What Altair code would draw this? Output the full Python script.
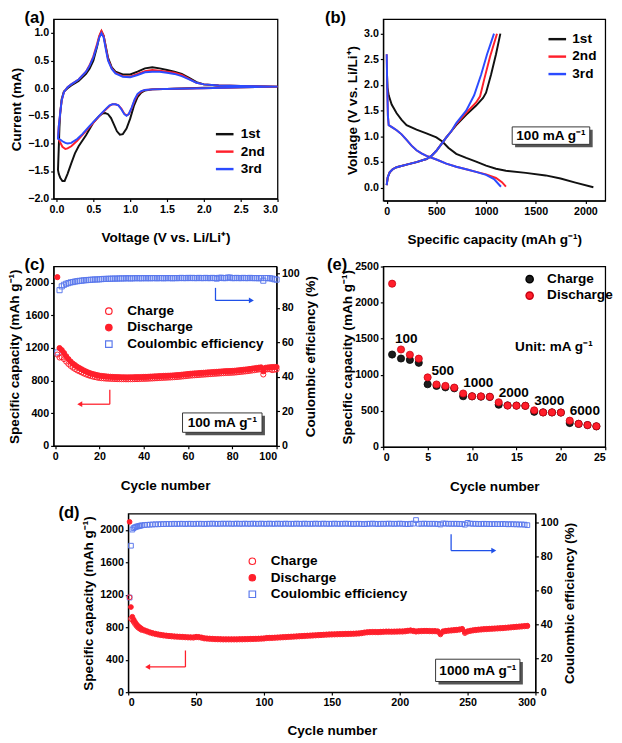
import altair as alt
import pandas as pd

FONT = "Liberation Sans"
RED = "#ff1f2b"
BLUE = "#2b4bff"
CE_BLUE = "#5a78ec"
ARROW_BLUE = "#1f50e8"
BLACK = "#111111"

# ---------------- (a) cyclic voltammetry ----------------
cv_names = ["1st", "2nd", "3rd"]
cv1_v = [3.0, 2.5, 2.0, 1.6, 1.3, 1.2, 1.15, 1.1, 1.05, 1.0, 0.95, 0.9, 0.86, 0.82, 0.78, 0.74, 0.7, 0.66, 0.62, 0.58,
         0.5, 0.4, 0.3, 0.25, 0.2, 0.15, 0.11, 0.08, 0.05, 0.03, 0.02,
         0.03, 0.04, 0.05, 0.07, 0.1, 0.15, 0.2, 0.3, 0.4, 0.45, 0.5, 0.55, 0.58, 0.61, 0.64, 0.67, 0.7, 0.75, 0.8,
         0.9, 1.0, 1.1, 1.2, 1.3, 1.4, 1.5, 1.6, 1.7, 1.8, 1.9, 2.0, 2.2, 2.5, 3.0]
cv1_i = [0.03, 0.02, 0.01, -0.01, -0.02, -0.04, -0.08, -0.16, -0.32, -0.55, -0.73, -0.83, -0.84, -0.78, -0.66, -0.54, -0.47, -0.45, -0.46, -0.5,
         -0.62, -0.85, -1.05, -1.18, -1.36, -1.55, -1.68, -1.68, -1.62, -1.55, -1.48,
         -1.1, -0.7, -0.45, -0.2, -0.06, 0.0, 0.05, 0.13, 0.26, 0.36, 0.5, 0.75, 0.93, 1.03, 0.95, 0.75, 0.55, 0.38, 0.3,
         0.25, 0.25, 0.3, 0.36, 0.38, 0.36, 0.33, 0.3, 0.26, 0.19, 0.11, 0.07, 0.05, 0.04, 0.03]
cv2_v = [3.0, 2.5, 2.0, 1.6, 1.3, 1.2, 1.15, 1.1, 1.06, 1.02, 0.98, 0.95, 0.92, 0.88, 0.84, 0.8, 0.76, 0.72, 0.68, 0.62,
         0.55, 0.45, 0.35, 0.28, 0.2, 0.15, 0.12, 0.08, 0.05, 0.03, 0.02,
         0.03, 0.05, 0.07, 0.1, 0.15, 0.2, 0.3, 0.4, 0.45, 0.5, 0.55, 0.58, 0.61, 0.64, 0.67, 0.7, 0.75, 0.8,
         0.9, 1.0, 1.1, 1.2, 1.3, 1.4, 1.5, 1.6, 1.7, 1.8, 1.9, 2.0, 2.2, 2.5, 3.0]
cv2_i = [0.03, 0.02, 0.0, -0.01, -0.02, -0.03, -0.06, -0.12, -0.22, -0.36, -0.47, -0.49, -0.46, -0.37, -0.31, -0.29, -0.29, -0.32, -0.37, -0.45,
         -0.55, -0.7, -0.85, -0.95, -1.05, -1.09, -1.1, -1.06, -0.98, -0.93, -0.9,
         -0.7, -0.45, -0.22, -0.07, 0.02, 0.07, 0.16, 0.3, 0.42, 0.58, 0.8, 0.95, 1.04, 0.95, 0.73, 0.52, 0.36, 0.28,
         0.22, 0.21, 0.26, 0.31, 0.33, 0.32, 0.3, 0.28, 0.24, 0.17, 0.1, 0.07, 0.05, 0.04, 0.03]
cv3_v = cv2_v
cv3_i = [0.03, 0.02, 0.0, -0.01, -0.02, -0.03, -0.05, -0.1, -0.2, -0.35, -0.47, -0.5, -0.47, -0.38, -0.31, -0.29, -0.29, -0.31, -0.36, -0.44,
         -0.54, -0.68, -0.83, -0.92, -0.99, -1.0, -0.99, -0.96, -0.93, -0.92, -0.91,
         -0.7, -0.45, -0.22, -0.07, 0.02, 0.07, 0.16, 0.3, 0.41, 0.56, 0.77, 0.92, 1.0, 0.92, 0.7, 0.5, 0.35, 0.27,
         0.21, 0.2, 0.24, 0.29, 0.3, 0.3, 0.28, 0.26, 0.22, 0.16, 0.1, 0.07, 0.05, 0.04, 0.03]

# ---------------- (b) charge/discharge profiles ----------------
dis1_c = [3, 8, 20, 50, 100, 150, 200, 300, 400, 500, 560, 620, 700, 800, 900, 1000, 1100, 1200, 1400, 1600, 1750, 1900, 2080]
dis1_v = [2.2, 1.95, 1.8, 1.62, 1.45, 1.32, 1.22, 1.13, 1.06, 0.98, 0.9, 0.78, 0.66, 0.58, 0.51, 0.43, 0.37, 0.33, 0.29, 0.24, 0.18, 0.1, 0.01]
dis2_c = [0, 5, 12, 20, 60, 100, 150, 200, 250, 300, 350, 400, 500, 600, 700, 800, 900, 1000, 1100, 1160, 1200]
dis2_v = [2.6, 2.0, 1.4, 1.22, 1.17, 1.12, 1.04, 0.93, 0.82, 0.73, 0.67, 0.62, 0.55, 0.47, 0.41, 0.36, 0.31, 0.26, 0.19, 0.11, 0.02]
dis3_c = [0, 5, 12, 20, 60, 100, 150, 200, 250, 300, 350, 400, 500, 600, 700, 800, 900, 1000, 1080, 1150]
dis3_v = [2.6, 2.0, 1.4, 1.22, 1.17, 1.12, 1.04, 0.93, 0.82, 0.73, 0.67, 0.62, 0.55, 0.47, 0.41, 0.36, 0.31, 0.25, 0.17, 0.02]
chg1_c = [0, 10, 30, 60, 100, 200, 300, 400, 450, 500, 550, 600, 650, 700, 800, 900, 970, 1000, 1050, 1100, 1144]
chg1_v = [0.05, 0.2, 0.3, 0.36, 0.4, 0.45, 0.5, 0.56, 0.62, 0.72, 0.85, 0.98, 1.1, 1.22, 1.42, 1.6, 1.75, 1.85, 2.2, 2.6, 3.0]
chg2_c = [0, 10, 30, 60, 100, 200, 300, 400, 450, 500, 550, 600, 650, 700, 800, 900, 940, 980, 1040, 1110]
chg2_v = [0.05, 0.2, 0.3, 0.36, 0.4, 0.45, 0.5, 0.56, 0.62, 0.72, 0.85, 0.98, 1.1, 1.24, 1.46, 1.66, 1.78, 2.1, 2.55, 3.0]
chg3_c = [0, 10, 30, 60, 100, 200, 300, 400, 450, 500, 550, 600, 650, 700, 800, 880, 950, 1010, 1080]
chg3_v = [0.05, 0.2, 0.3, 0.36, 0.4, 0.45, 0.5, 0.56, 0.62, 0.72, 0.85, 0.98, 1.1, 1.26, 1.5, 1.8, 2.2, 2.6, 3.0]

# ---------------- (c) cycling at 100 mA/g ----------------
cyc_c = list(range(1, 101))
dis_c = [2070, 1200, 1175, 1140, 1100, 1065, 1035, 1010, 990, 970,
         955, 940, 925, 912, 900, 890, 882, 875, 868, 862,
         858, 855, 852, 850, 848, 846, 845, 844, 843, 842,
         842, 841, 841, 842, 842, 843, 843, 844, 845, 846,
         847, 848, 850, 851, 853, 854, 856, 857, 859, 860,
         861, 862, 864, 866, 868, 870, 873, 876, 879, 882,
         885, 887, 889, 891, 893, 895, 897, 899, 901, 903,
         905, 907, 909, 911, 913, 915, 917, 918, 919, 920,
         922, 925, 928, 931, 934, 937, 940, 944, 948, 952,
         956, 960, 963, 915, 958, 962, 965, 967, 968, 968]
chg_c = [1120, 1084, 1087, 1065, 1034, 1005, 981, 960, 943, 926,
         914, 901, 888, 876, 866, 857, 850, 844, 838, 833,
         830, 828, 825, 824, 822, 821, 820, 819, 819, 818,
         818, 817, 817, 818, 818, 819, 819, 820, 821, 822,
         823, 824, 826, 827, 829, 830, 832, 833, 835, 836,
         838, 839, 841, 843, 845, 847, 850, 853, 856, 859,
         862, 864, 866, 868, 870, 872, 874, 876, 878, 880,
         882, 884, 886, 888, 890, 892, 894, 895, 896, 897,
         899, 902, 905, 908, 911, 914, 917, 921, 925, 929,
         933, 937, 940, 876, 935, 939, 940, 930, 934, 938]
ce_c = [54.2, 90.3, 92.5, 93.4, 94.0, 94.4, 94.8, 95.0, 95.3, 95.5,
        95.7, 95.8, 96.0, 96.1, 96.2, 96.3, 96.4, 96.5, 96.5, 96.6,
        96.7, 96.8, 96.8, 96.9, 96.9, 97.0, 97.0, 97.0, 97.1, 97.1,
        97.1, 97.2, 97.2, 97.1, 97.2, 97.2, 97.3, 97.2, 97.2, 97.3,
        97.2, 97.3, 97.2, 97.3, 97.3, 97.2, 97.3, 97.3, 97.2, 97.3,
        97.3, 97.3, 97.2, 97.3, 97.3, 97.3, 97.4, 97.3, 97.3, 97.4,
        97.3, 97.4, 97.3, 97.3, 97.4, 97.3, 97.3, 97.4, 97.3, 97.3,
        97.4, 97.3, 97.0, 97.4, 97.5, 97.3, 97.3, 97.6, 97.6, 97.3,
        97.3, 97.4, 97.3, 97.3, 97.4, 97.3, 97.3, 97.4, 97.3, 97.3,
        97.3, 97.2, 97.3, 95.8, 97.3, 97.3, 97.2, 97.0, 96.6, 96.4]

# ---------------- (e) rate capability ----------------
cyc_e = list(range(1, 25))
chg_e = [1280, 1225, 1205, 1165, 868, 845, 825, 812, 702, 700, 696, 692, 584, 575, 572, 569, 486, 478, 477, 476, 330, 318, 302, 284]
dis_e = [2262, 1350, 1277, 1223, 963, 865, 845, 822, 740, 702, 700, 695, 618, 573, 571, 569, 506, 477, 478, 476, 363, 320, 302, 286]
rate_labels = ["100", "500", "1000", "2000", "3000", "6000"]
rate_label_cycle = [2.6, 6.7, 10.7, 14.7, 18.7, 22.7]
rate_label_cap = [1500, 1055, 880, 750, 640, 490]

# ---------------- (d) long cycling at 1000 mA/g ----------------
cyc_d = list(range(1, 11)) + list(range(12, 295, 2))
dis_d = [2100, 1050, 930, 895, 865, 840, 820, 805, 792, 780,
         765, 752, 740, 730, 722, 715, 709, 704, 700, 696,
         693, 690, 688, 686, 684, 682, 680, 679, 678, 684,
         682, 676, 668, 665, 662, 660, 658, 657, 656, 655,
         655, 655, 655, 655, 655, 656, 656, 657, 658, 659,
         660, 661, 662, 664, 666, 671, 672, 673, 675, 677,
         679, 681, 683, 685, 687, 689, 691, 693, 695, 697,
         699, 701, 703, 705, 707, 709, 711, 713, 715, 716,
         717, 718, 719, 720, 721, 722, 723, 724, 726, 728,
         732, 738, 742, 744, 745, 745, 744, 746, 748, 750,
         750, 749, 750, 751, 752, 752, 755, 760, 764, 758,
         752, 755, 757, 758, 758, 757, 756, 756, 752, 722,
         752, 758, 762, 765, 768, 771, 776, 782, 740, 752,
         760, 766, 770, 774, 777, 780, 782, 784, 786, 788,
         790, 792, 794, 797, 800, 803, 806, 809, 812, 815,
         818, 820]
chg_d = [1170, 905, 890, 865, 840, 818, 800, 787, 776, 766,
         757, 745, 733, 723, 715, 708, 702, 697, 693, 689,
         686, 683, 681, 679, 677, 675, 673, 672, 671, 676,
         675, 669, 661, 658, 655, 653, 651, 650, 649, 648,
         648, 648, 648, 648, 648, 649, 649, 650, 651, 652,
         653, 654, 655, 657, 659, 664, 665, 666, 668, 670,
         672, 674, 676, 678, 680, 682, 684, 686, 688, 690,
         692, 694, 696, 698, 700, 702, 704, 706, 708, 709,
         710, 711, 712, 713, 714, 715, 716, 717, 719, 721,
         725, 731, 735, 737, 738, 738, 737, 739, 741, 743,
         743, 742, 743, 744, 745, 745, 748, 753, 757, 751,
         745, 748, 750, 751, 751, 750, 749, 749, 745, 712,
         744, 751, 755, 758, 761, 764, 769, 775, 728, 745,
         753, 759, 763, 767, 770, 773, 775, 777, 779, 781,
         783, 785, 787, 790, 793, 796, 799, 802, 805, 808,
         811, 813]
ce_d = [55.7, 86.2, 95.7, 96.6, 97.1, 97.4, 97.6, 97.8, 98.0, 98.2,
        98.4, 98.5, 98.6, 98.7, 98.8, 98.8, 98.9, 98.9, 99.0, 99.0,
        99.0, 99.1, 99.0, 99.1, 99.1, 99.0, 99.1, 99.1, 99.0, 99.1,
        99.1, 99.1, 99.0, 99.1, 99.1, 99.2, 99.1, 99.1, 99.1, 99.2,
        99.1, 99.2, 99.1, 99.1, 99.2, 99.1, 99.1, 99.2, 99.1, 99.1,
        99.2, 99.1, 99.1, 99.2, 99.1, 99.1, 99.2, 99.1, 99.1, 99.2,
        99.1, 99.1, 99.2, 99.1, 99.1, 99.1, 99.2, 99.1, 99.1, 99.2,
        99.1, 99.1, 99.1, 99.2, 99.1, 99.1, 99.2, 99.1, 99.1, 99.1,
        99.2, 99.1, 99.1, 99.1, 99.2, 99.1, 99.1, 99.0, 99.1, 99.1,
        99.0, 98.9, 99.1, 99.1, 99.2, 99.1, 99.0, 99.1, 99.1, 99.1,
        99.2, 99.1, 99.1, 99.1, 99.2, 99.1, 99.0, 98.9, 99.1, 99.2,
        101.3, 99.1, 99.1, 99.2, 99.1, 99.1, 99.1, 99.1, 99.0, 98.7,
        99.3, 99.2, 99.1, 99.1, 99.1, 99.1, 99.0, 99.0, 98.6, 99.6,
        99.2, 99.1, 99.1, 99.0, 99.0, 99.1, 99.0, 99.0, 98.9, 99.0,
        98.9, 98.9, 99.0, 98.9, 98.8, 98.9, 98.8, 98.8, 98.7, 98.7,
        98.6, 98.3]

SERIES3 = ["Charge", "Discharge", "Coulombic efficiency"]


# ---------------- helpers ----------------
def one():
    return alt.Chart(pd.DataFrame({"k": [0]}))


def panel_label(text, dx):
    return one().mark_text(font=FONT, fontSize=17, fontWeight="bold", align="left",
                           baseline="alphabetic", color="black").encode(
        x=alt.value(dx), y=alt.value(4), text=alt.value(text))


def boxed(text, x1, x2, y1, y2):
    shadow = one().mark_rect(color="#555555").encode(
        x=alt.value(x1 + 3), x2=alt.value(x2 + 3), y=alt.value(y1 + 3), y2=alt.value(y2 + 3))
    frame = one().mark_rect(fill="white", stroke="#333333", strokeWidth=1).encode(
        x=alt.value(x1), x2=alt.value(x2), y=alt.value(y1), y2=alt.value(y2))
    label = one().mark_text(font=FONT, fontSize=14, fontWeight="bold", color="black").encode(
        x=alt.value((x1 + x2) / 2), y=alt.value((y1 + y2) / 2 + 1), text=alt.value(text))
    return [shadow, frame, label]


def arrow(xv, y1, y2, xend, color):
    v = one().mark_rule(color=color, strokeWidth=1.3).encode(
        x=alt.value(xv), y=alt.value(y1), y2=alt.value(y2))
    h = one().mark_rule(color=color, strokeWidth=1.3).encode(
        x=alt.value(xv), x2=alt.value(xend), y=alt.value(y2))
    shape = "triangle-left" if xend < xv else "triangle-right"
    head = one().mark_point(shape=shape, filled=True, color=color, size=35, opacity=1).encode(
        x=alt.value(xend), y=alt.value(y2))
    return [v, h, head]


def lin(domain):
    return alt.Scale(domain=domain, nice=False, zero=False)


INDEP = dict(color="independent", fill="independent", shape="independent", stroke="independent")

# ---------------- panel (a) ----------------
rows = []
for name, vs, cs in zip(cv_names, [cv1_v, cv2_v, cv3_v], [cv1_i, cv2_i, cv3_i]):
    for k, (v, c) in enumerate(zip(vs, cs)):
        rows.append({"V": v, "I": c, "cyc": name, "idx": k})
df_a = pd.DataFrame(rows)

line_legend = dict(orient="none", title=None, symbolType="stroke", symbolStrokeWidth=2.5,
                   labelFontSize=14, symbolSize=330, rowPadding=-1)

chart_a = alt.layer(
    alt.Chart(df_a).mark_line(strokeWidth=2).encode(
        x=alt.X("V:Q", scale=lin([-0.04, 3.0]),
                axis=alt.Axis(values=[0, 0.5, 1.0, 1.5, 2.0, 2.5, 3.0], format=".1f", titlePadding=17,
                              title="Voltage (V vs. Li/Li⁺)")),
        y=alt.Y("I:Q", scale=lin([-2.0, 1.25]),
                axis=alt.Axis(values=[-2.0, -1.5, -1.0, -0.5, 0.0, 0.5, 1.0], format=".1f",
                              title="Current (mA)")),
        color=alt.Color("cyc:N", scale=alt.Scale(domain=cv_names, range=[BLACK, RED, BLUE]),
                        legend=alt.Legend(legendX=166, legendY=108, labelOffset=6, **line_legend)),
        order="idx:Q"),
    panel_label("(a)", -30),
).properties(width=231, height=185)

# ---------------- panel (b) ----------------
rows = []
for name, cs, vs in [("1st", dis1_c, dis1_v), ("2nd", dis2_c, dis2_v), ("3rd", dis3_c, dis3_v)]:
    for k, (c, v) in enumerate(zip(cs, vs)):
        rows.append({"C": c, "V": v, "cyc": name, "seg": name + "d", "idx": k})
for name, cs, vs in [("1st", chg1_c, chg1_v), ("2nd", chg2_c, chg2_v), ("3rd", chg3_c, chg3_v)]:
    for k, (c, v) in enumerate(zip(cs, vs)):
        rows.append({"C": c, "V": v, "cyc": name, "seg": name + "c", "idx": k})
df_b = pd.DataFrame(rows)

chart_b = alt.layer(
    alt.Chart(df_b).mark_line(strokeWidth=2).encode(
        x=alt.X("C:Q", scale=lin([-35, 2200]),
                axis=alt.Axis(values=[0, 500, 1000, 1500, 2000], format="d", titlePadding=17,
                              title="Specific capacity (mAh g⁻¹)")),
        y=alt.Y("V:Q", scale=lin([-0.25, 3.28]),
                axis=alt.Axis(values=[0.0, 0.5, 1.0, 1.5, 2.0, 2.5, 3.0], format=".1f",
                              title="Voltage (V vs. Li/Li⁺)")),
        color=alt.Color("cyc:N", scale=alt.Scale(domain=cv_names, range=[BLACK, RED, BLUE]),
                        legend=alt.Legend(legendX=169, legendY=10, labelOffset=5, **line_legend)),
        detail="seg:N",
        order="idx:Q"),
    *boxed("100 mA g⁻¹", 133, 213, 111, 129),
    panel_label("(b)", -60),
).properties(width=229, height=187)


# ---------------- dual-axis cycling panels ----------------
def cycling_panel(cycles, dis, chg, ce, xdom, xvals, ydom, ce_dom, width, height, leg_x, leg_y,
                  size, extras, plabel, plabel_dx, xtitle_pad):
    df = pd.DataFrame({"cycle": cycles * 2, "cap": dis + chg,
                       "series": ["Discharge"] * len(dis) + ["Charge"] * len(chg)})
    df_ce = pd.DataFrame({"cycle": cycles, "ce": ce, "series": ["Coulombic efficiency"] * len(ce)})
    leg = alt.Legend(orient="none", legendX=leg_x, legendY=leg_y, title=None, labelFontSize=14,
                     symbolSize=45, symbolStrokeWidth=1.2, labelOffset=12, rowPadding=3)
    color = alt.Color("series:N", scale=alt.Scale(domain=SERIES3, range=[RED, RED, CE_BLUE]), legend=leg)
    fill = alt.Fill("series:N", scale=alt.Scale(domain=SERIES3, range=["transparent", RED, "transparent"]),
                    legend=leg)
    shape = alt.Shape("series:N", scale=alt.Scale(domain=SERIES3, range=["circle", "circle", "square"]),
                      legend=leg)
    x = alt.X("cycle:Q", scale=lin(xdom),
              axis=alt.Axis(values=xvals, title="Cycle number", titlePadding=xtitle_pad))
    left = alt.layer(
        alt.Chart(df).mark_point(size=size, strokeWidth=1, opacity=1).encode(
            x=x,
            y=alt.Y("cap:Q", scale=lin(ydom),
                    axis=alt.Axis(values=[0, 400, 800, 1200, 1600, 2000], format="d",
                                  title="Specific capacity (mAh g⁻¹)")),
            color=color, fill=fill, shape=shape),
        *extras,
        panel_label(plabel, plabel_dx),
    )
    right = alt.Chart(df_ce).mark_point(size=size, strokeWidth=1, opacity=1).encode(
        x=x,
        y=alt.Y("ce:Q", scale=lin(ce_dom),
                axis=alt.Axis(orient="right", values=[0, 20, 40, 60, 80, 100], titlePadding=5,
                              title="Coulombic  efficiency (%)", titleAngle=270, titleBaseline="top")),
        color=color, fill=fill, shape=shape)
    return alt.layer(right, left).resolve_scale(y="independent").properties(width=width, height=height)


extras_c = boxed("100 mA g⁻¹", 133, 215, 151, 171) + arrow(58, 127, 142, 27, RED) + \
    arrow(167, 22, 35, 204, ARROW_BLUE)
chart_c = cycling_panel(cyc_c, dis_c, chg_c, ce_c, [-0.7, 100], [0, 20, 40, 60, 80, 100], [0, 2200],
                        [0, 104], 230, 185, 50, 39, 28, extras_c, "(c)", -30, 18)

extras_d = boxed("1000 mA g⁻¹", 317, 404, 150, 173) + arrow(59, 141, 158, 20, RED) + \
    arrow(333, 21, 38, 377, ARROW_BLUE)
chart_d = cycling_panel(cyc_d, dis_d, chg_d, ce_d, [0, 300], [0, 50, 100, 150, 200, 250, 300], [0, 2200],
                        [0, 105], 420, 184, 121, 42, 24, extras_d, "(d)", -72, 17)

# ---------------- panel (e) ----------------
df_e = pd.DataFrame({"cycle": cyc_e * 2, "cap": chg_e + dis_e,
                     "series": ["Charge"] * len(chg_e) + ["Discharge"] * len(dis_e)})
df_rates = pd.DataFrame({"cycle": rate_label_cycle, "cap": rate_label_cap, "t": rate_labels})
xe = alt.X("cycle:Q", scale=lin([0, 25]),
           axis=alt.Axis(values=[0, 5, 10, 15, 20, 25], title="Cycle number", titlePadding=18))
ye = alt.Y("cap:Q", scale=lin([0, 2500]),
           axis=alt.Axis(values=[0, 500, 1000, 1500, 2000, 2500], format="d", titlePadding=0,
                         title="Specific capacity (mAh g⁻¹)"))
chart_e = alt.layer(
    alt.Chart(df_e).mark_circle(size=55, opacity=1, strokeWidth=0.8).encode(
        x=xe, y=ye,
        color=alt.Color("series:N", scale=alt.Scale(domain=["Charge", "Discharge"], range=["#1c1c1c", RED]),
                        legend=alt.Legend(orient="none", legendX=144, legendY=6, title=None, labelFontSize=14,
                                          symbolSize=55, labelOffset=11, rowPadding=3)),
        stroke=alt.Stroke("series:N", scale=alt.Scale(domain=["Charge", "Discharge"], range=["#000000", "#c80010"]),
                          legend=None)),
    alt.Chart(df_rates).mark_text(font=FONT, fontSize=14, fontWeight="bold", color="black").encode(
        x=xe, y=ye, text="t:N"),
    one().mark_text(font=FONT, fontSize=14, fontWeight="bold", color="black").encode(
        x=alt.value(176), y=alt.value(83), text=alt.value("Unit: mA g⁻¹")),
    panel_label("(e)", -58),
).properties(width=229, height=186)

spacer = one().mark_point(opacity=0).encode(x=alt.value(0), y=alt.value(0)).properties(
    width=1, height=10, view=alt.ViewBackground(stroke="transparent"))

chart = alt.vconcat(
    alt.hconcat(chart_a, chart_b, spacing=43).resolve_scale(**INDEP),
    alt.hconcat(chart_c, chart_e, spacing=7).resolve_scale(**INDEP),
    alt.hconcat(spacer, chart_d, spacing=0).resolve_scale(**INDEP),
    spacing=9,
    padding={"left": -2, "top": -11, "right": 0, "bottom": 0},
).resolve_scale(**INDEP).configure_axis(
    labelFont=FONT, labelFontSize=11, labelFontWeight="bold", labelColor="black",
    titleFont=FONT, titleFontSize=14, titleFontWeight="bold", titleColor="black",
    domainColor="black", tickColor="black", domainWidth=1.2, tickWidth=1.2, tickSize=3,
    labelPadding=2, titlePadding=4, grid=False,
).configure_view(stroke="black", strokeWidth=1.3).configure_legend(
    labelFont=FONT, labelFontWeight="bold", labelColor="black"
)

chart.save("out.html", embed_options={"renderer": "svg", "actions": False})
